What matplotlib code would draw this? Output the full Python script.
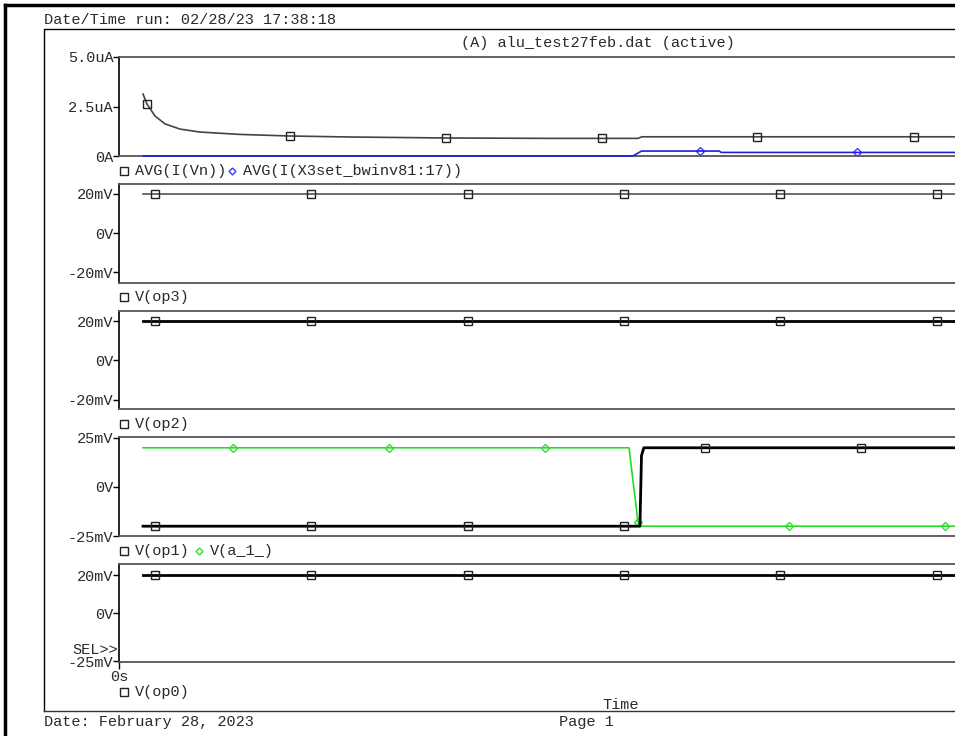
import matplotlib
matplotlib.use("Agg")
import matplotlib.pyplot as plt
from matplotlib.lines import Line2D
import numpy as np

plt.rcParams['font.family'] = ['Liberation Mono', 'DejaVu Sans Mono']

W, H = 955, 736
TXT = '#2a2a2a'

# ---------------------------------------------------------------------
# Data (time in ns, currents in uA, voltages in mV)
# ---------------------------------------------------------------------
t_end = 53.6

# panel 1: AVG(I(Vn)) and AVG(I(X3set_bwinv81:17))
vn_t = [1.54, 1.79, 2.31, 2.95, 3.91, 5.19, 7.76, 10.96, 14.81, 20.96, 27.63, 33.27, 33.53, 53.6]
vn_i = [3.13, 2.63, 2.02, 1.62, 1.36, 1.21, 1.09, 1.01, 0.96, 0.91, 0.89, 0.89, 0.97, 0.97]
vn_mk_t = [1.79, 10.96, 20.96, 30.96, 40.9, 50.97]
vn_mk_i = [2.63, 1.01, 0.90, 0.89, 0.98, 0.96]

x3_t = [1.54, 32.95, 33.5, 38.5, 38.6, 53.6]
x3_i = [0.0, 0.0, 0.25, 0.25, 0.18, 0.18]
x3_mk_t = [37.24, 47.31]
x3_mk_i = [0.25, 0.18]

# panel 2: V(op3)
op3_t = [1.54, 53.6]
op3_v = [20, 20]
# panel 3: V(op2)
op2_t = [1.54, 53.6]
op2_v = [20, 20]
# panel 4: V(op1), V(a_1_)
op1_t = [1.54, 33.4, 33.5, 33.65, 53.6]
op1_v = [-20, -20, 16, 20, 20]
op1_mk_t = [2.31, 12.31, 22.37, 32.37, 37.56, 47.56]
op1_mk_v = [-20, -20, -20, -20, 20, 20]
a1_t = [1.54, 32.7, 33.27, 33.4, 53.6]
a1_v = [20, 20, -17.7, -20, -20]
a1_mk_t = [7.31, 17.31, 27.31, 33.27, 42.95, 52.95]
a1_mk_v = [20, 20, 20, -17.7, -20, -20]
# panel 5: V(op0)
op0_t = [1.54, 53.6]
op0_v = [20, 20]

sq_t = [2.31, 12.31, 22.37, 32.37, 42.37, 52.44]

# ---------------------------------------------------------------------
fig = plt.figure(figsize=(W / 100, H / 100), dpi=100)


def fx(px):
    return px / W


def fy(py):
    return 1 - py / H


def make_ax(top, bottom, ylim, ticks, labels):
    ax = fig.add_axes([fx(119), fy(bottom), fx(W - 119), (bottom - top) / H])
    ax.set_xlim(0, t_end)
    ax.set_ylim(*ylim)
    ax.set_yticks(ticks)
    ax.set_yticklabels(labels, fontsize=11, color=TXT)
    ax.set_xticks([])
    ax.tick_params(axis='y', direction='out', length=4, width=1, pad=0, color='black')
    ax.spines['right'].set_visible(False)
    ax.spines['left'].set_linewidth(1.2)
    for s in ('top', 'bottom'):
        ax.spines[s].set_color('#555555')
        ax.spines[s].set_linewidth(1.3)
    ax.patch.set_alpha(0)
    return ax


sq = dict(marker='s', ms=6, mfc='none', mec='#222222', mew=1, ls='none', zorder=5)

# panel 1
ax1 = make_ax(57, 156, (0, 5), [0, 2.5, 5], ['0A', '2.5uA', '5.0uA'])
ax1.plot(vn_t, vn_i, color='#444444', lw=1.2)
ax1.plot(vn_mk_t, vn_mk_i, **sq)
ax1.plot(x3_t, x3_i, color='#1f1fe0', lw=1.2, zorder=4, clip_on=False)
ax1.plot(x3_mk_t, x3_mk_i, marker='D', ms=4, mfc='none', mec='#3b3bff', ls='none')

# panel 2
ax2 = make_ax(184, 283, (-25.6, 25.1), [-20, 0, 20], ['-20mV', '0V', '20mV'])
ax2.plot(op3_t, op3_v, color='#555555', lw=1.2)
ax2.plot(sq_t, [20] * len(sq_t), **sq)

# panel 3
ax3 = make_ax(311, 409, (-24.6, 25.1), [-20, 0, 20], ['-20mV', '0V', '20mV'])
ax3.plot(op2_t, op2_v, color='black', lw=2)
ax3.plot(sq_t, [20] * len(sq_t), **sq)

# panel 4
ax4 = make_ax(437, 536, (-25, 25.5), [-25, 0, 25], ['-25mV', '0V', '25mV'])
ax4.plot(a1_t, a1_v, color='#22dd22', lw=1.2)
ax4.plot(a1_mk_t, a1_mk_v, marker='D', ms=4, mfc='none', mec='#33dd33', ls='none')
ax4.plot(op1_t, op1_v, color='black', lw=2)
ax4.plot(op1_mk_t, op1_mk_v, **sq)

# panel 5
ax5 = make_ax(564, 662, (-25.5, 25.8), [-25, 0, 20], ['-25mV', '0V', '20mV'])
ax5.plot(op0_t, op0_v, color='black', lw=2)
ax5.plot(sq_t, [20] * len(sq_t), **sq)
ax5.set_xticks([0])
ax5.set_xticklabels(['0s'], fontsize=11, color=TXT)
ax5.tick_params(axis='x', direction='out', length=5, width=1, pad=1)

# ---------------------------------------------------------------------
# page furniture
fig.add_artist(Line2D([fx(5), fx(5)], [fy(5), 0], color='black', lw=2.5))
fig.add_artist(Line2D([fx(5), 1], [fy(5), fy(5)], color='black', lw=2.5))
fig.add_artist(Line2D([fx(44), fx(44), 1], [fy(711), fy(29), fy(29)], color='black', lw=1))
fig.add_artist(Line2D([fx(44), 1], [fy(711), fy(711)], color='#333333', lw=1))

fig.text(fx(44), fy(20), 'Date/Time run: 02/28/23 17:38:18', fontsize=11, color=TXT, va='center')
fig.text(fx(461), fy(43), '(A) alu_test27feb.dat (active)', fontsize=11, color=TXT, va='center')
fig.text(fx(44), fy(722), 'Date: February 28, 2023', fontsize=11, color=TXT, va='center')
fig.text(fx(559), fy(722), 'Page 1', fontsize=11, color=TXT, va='center')
fig.text(fx(602), fy(705), 'Time', fontsize=11, color=TXT, va='center')
fig.text(fx(118), fy(650), 'SEL>>', fontsize=11, color=TXT, va='center', ha='right')


def legend_row(py, items):
    for px_mark, kind, px_text, label in items:
        if kind == 's':
            fig.add_artist(Line2D([fx(px_mark)], [fy(py)], marker='s', ms=5.5, mfc='none',
                                  mec='#222222', mew=1))
        else:
            col = '#3b3bff' if kind == 'db' else '#33dd33'
            fig.add_artist(Line2D([fx(px_mark)], [fy(py)], marker='D', ms=3.5, mfc='none',
                                  mec=col, mew=1))
        fig.text(fx(px_text), fy(py), label, fontsize=11, color=TXT, va='center')


legend_row(171, [(124, 's', 135, 'AVG(I(Vn))'), (232, 'db', 243, 'AVG(I(X3set_bwinv81:17))')])
legend_row(297, [(124, 's', 135, 'V(op3)')])
legend_row(424, [(124, 's', 135, 'V(op2)')])
legend_row(551, [(124, 's', 135, 'V(op1)'), (199, 'dg', 210, 'V(a_1_)')])
legend_row(692, [(124, 's', 135, 'V(op0)')])

fig.savefig('out.png', dpi=100)
